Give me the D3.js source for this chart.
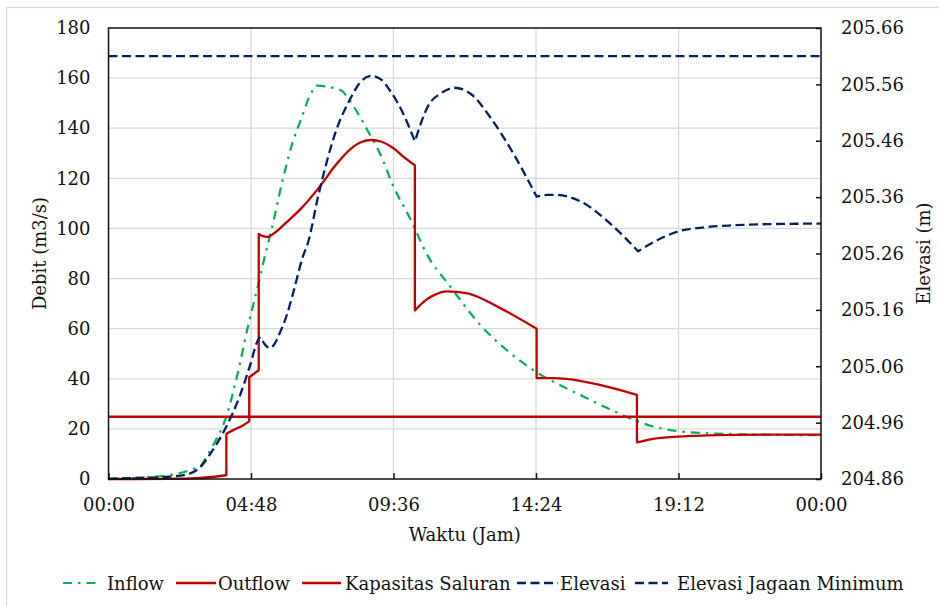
<!DOCTYPE html>
<html>
<head>
<meta charset="utf-8">
<script src="https://cdn.jsdelivr.net/npm/d3@7"></script>
<style>
  body { margin: 0; background: #fff; }
  svg text { font-family: "DejaVu Serif", serif; fill: #111; }
</style>
</head>
<body>
<div id="chart"></div>
<script>
// Debit / elevasi hydrograph, dual axis

// time in hours (0-24)
const xTicks = [0, 4.8, 9.6, 14.4, 19.2, 24];
const xTickLabels = ["00:00", "04:48", "09:36", "14:24", "19:12", "00:00"];
const debitTicks = [0, 20, 40, 60, 80, 100, 120, 140, 160, 180];
const elevTicks = [204.86, 204.96, 205.06, 205.16, 205.26, 205.36, 205.46, 205.56, 205.66];

const inflowT = [0, 1, 2, 2.6, 3.1, 3.5, 3.97, 4.35, 4.7, 5.0, 5.29, 5.49, 5.88, 6.22, 6.5, 6.8, 7.0, 7.5, 7.85, 8.13, 8.45, 8.74, 9.14, 9.59, 10.2, 10.71, 11.5, 12.56, 13.4, 14.42, 15.2, 15.98, 16.8, 17.67, 18.4, 19.24, 20.48, 22, 24];
const inflowQ = [0, 0.5, 1.5, 3, 5, 13, 25, 42, 61, 75.5, 90, 99.5, 120, 135, 144, 153.5, 157, 156.3, 155, 151, 145, 138.8, 130, 117, 103, 90, 77, 61, 51.6, 42.6, 37.5, 33, 28.3, 23.7, 20.8, 19, 18.1, 17.7, 17.5];
const inflowKinks = [3.1, 7.0];

// repeated times are the vertical steps
const outflowT = [0, 1, 2, 2.5, 3.0, 3.5, 3.97, 3.97, 4.2, 4.5, 4.74, 4.74, 5.06, 5.06, 5.2, 5.35, 5.6, 6.0, 6.45, 7.12, 7.6, 8.13, 8.5, 8.86, 9.2, 9.59, 9.92, 10.32, 10.32, 10.71, 11.0, 11.38, 12.06, 13.18, 14.42, 14.42, 15.0, 15.43, 16.55, 17.8, 17.8, 18.3, 18.8, 19.5, 20.48, 22, 24];
const outflowQ = [0, 0, 0.05, 0.15, 0.35, 0.8, 1.5, 18, 19.5, 21.2, 23, 40.6, 43.4, 97.8, 96.9, 96.6, 98.3, 102.5, 107.5, 116.8, 124.5, 131.5, 134.4, 135.3, 134.6, 132.1, 128.8, 125.2, 67.3, 71.6, 73.6, 74.9, 74.2, 68.3, 60, 40.3, 40.3, 40, 37.6, 33.6, 14.6, 15.9, 16.6, 17.1, 17.5, 17.7, 17.7];

const kapasitas = 24.8;

const elevT = [0, 1, 2, 2.63, 3.07, 3.52, 3.97, 4.42, 4.76, 5.04, 5.12, 5.25, 5.43, 5.6, 5.77, 6.0, 6.22, 6.55, 6.72, 7.06, 7.68, 8.13, 8.5, 8.86, 9.2, 9.47, 9.92, 10.32, 10.76, 11.22, 11.66, 12.23, 12.84, 13.63, 14.42, 14.8, 15.09, 15.98, 16.88, 17.84, 18.5, 19.18, 20, 21.04, 22.16, 24];
const elevE = [204.86, 204.862, 204.864, 204.868, 204.88, 204.912, 204.953, 205.007, 205.06, 205.107, 205.112, 205.1, 205.092, 205.1, 205.119, 205.15, 205.19, 205.255, 205.279, 205.361, 205.48, 205.533, 205.565, 205.575, 205.568, 205.55, 205.509, 205.459, 205.521, 205.545, 205.554, 205.542, 205.503, 205.438, 205.361, 205.364, 205.364, 205.35, 205.314, 205.264, 205.284, 205.299, 205.306, 205.31, 205.312, 205.313];
const elevKinks = [5.12, 10.32, 14.42, 17.84];

const jagaanMin = 205.61;

const W = 939, H = 606;
const plot = { left: 108.5, right: 821, top: 28, bottom: 479 };

const svg = d3.select("#chart").append("svg")
  .attr("width", W).attr("height", H);

// outer chart border
svg.append("rect")
  .attr("x", 6.5).attr("y", 7.5)
  .attr("width", W).attr("height", H)
  .attr("fill", "none").attr("stroke", "#d9d9d9").attr("stroke-width", 1.3);

const x = d3.scaleLinear().domain([0, 24]).range([plot.left, plot.right]);
const yL = d3.scaleLinear().domain([0, 180]).range([plot.bottom, plot.top]);
const yR = d3.scaleLinear().domain([204.86, 205.66]).range([plot.bottom, plot.top]);

// gridlines
svg.append("g").selectAll("line").data(debitTicks.slice(1, -1)).join("line")
  .attr("x1", plot.left).attr("x2", plot.right)
  .attr("y1", d => yL(d)).attr("y2", d => yL(d))
  .attr("stroke", "#d9d9d9").attr("stroke-width", 1.3);
svg.append("g").selectAll("line").data(xTicks.slice(1, -1)).join("line")
  .attr("x1", d => x(d)).attr("x2", d => x(d))
  .attr("y1", plot.top).attr("y2", plot.bottom)
  .attr("stroke", "#d9d9d9").attr("stroke-width", 1.3);

// smooth path, broken into pieces at steps (repeated t) and at sharp corners
function smoothPath(ts, vs, y, kinks = []) {
  const pts = ts.map((t, i) => [t, vs[i]]);
  const pieces = [];
  let cur = [pts[0]];
  for (let i = 1; i < pts.length; i++) {
    if (pts[i][0] === pts[i - 1][0]) {
      pieces.push(cur); cur = [pts[i]];
    } else {
      cur.push(pts[i]);
      if (kinks.includes(pts[i][0]) && i < pts.length - 1) { pieces.push(cur); cur = [pts[i]]; }
    }
  }
  pieces.push(cur);
  const gen = d3.line().x(d => x(d[0])).y(d => y(d[1])).curve(d3.curveMonotoneX);
  return pieces.map((p, i) => {
    const s = gen(p);
    return i === 0 ? s : "L" + s.slice(1);
  }).join("");
}

svg.append("path").attr("d", smoothPath(inflowT, inflowQ, yL, inflowKinks))
  .attr("fill", "none").attr("stroke", "#00b050").attr("stroke-width", 2.2)
  .attr("stroke-dasharray", "9,6,2.5,6");

svg.append("path").attr("d", smoothPath(outflowT, outflowQ, yL))
  .attr("fill", "none").attr("stroke", "#c00000").attr("stroke-width", 2.3)
  .attr("stroke-linejoin", "round");

svg.append("path").attr("d", smoothPath([0, 24], [kapasitas, kapasitas], yL))
  .attr("fill", "none").attr("stroke", "#c00000").attr("stroke-width", 2.5);

svg.append("path").attr("d", smoothPath(elevT, elevE, yR, elevKinks))
  .attr("fill", "none").attr("stroke", "#002060").attr("stroke-width", 2.3)
  .attr("stroke-dasharray", "9,4.5");

svg.append("path").attr("d", smoothPath([0, 24], [jagaanMin, jagaanMin], yR))
  .attr("fill", "none").attr("stroke", "#002060").attr("stroke-width", 2.3)
  .attr("stroke-dasharray", "9,4.5");

// frame
svg.append("rect")
  .attr("x", plot.left).attr("y", plot.top)
  .attr("width", plot.right - plot.left).attr("height", plot.bottom - plot.top)
  .attr("fill", "none").attr("stroke", "#111").attr("stroke-width", 1.5);

// axes
const axL = svg.append("g").attr("transform", `translate(${plot.left},0)`)
  .call(d3.axisLeft(yL).tickValues(debitTicks).tickSize(0).tickPadding(18));
const axR = svg.append("g").attr("transform", `translate(${plot.right},0)`)
  .call(d3.axisRight(yR).tickValues(elevTicks).tickSize(-5).tickPadding(20)
    .tickFormat(d => d.toFixed(2)));
const axB = svg.append("g").attr("transform", `translate(0,${plot.bottom})`)
  .call(d3.axisBottom(x).tickValues(xTicks).tickSize(-6).tickPadding(19)
    .tickFormat((d, i) => xTickLabels[i]));

[axL, axR, axB].forEach(a => {
  a.select(".domain").remove();
  a.selectAll(".tick line").attr("stroke", "#111").attr("stroke-width", 1.5);
  a.selectAll("text").attr("font-size", 18).attr("fill", "#111")
    .style("font-family", "'DejaVu Serif', serif");
});

// axis titles
svg.append("text").attr("x", (plot.left + plot.right) / 2).attr("y", 541)
  .attr("text-anchor", "middle").attr("font-size", 18).text("Waktu (Jam)");
svg.append("text")
  .attr("transform", `translate(46,${(plot.top + plot.bottom) / 2}) rotate(-90)`)
  .attr("text-anchor", "middle").attr("font-size", 18).text("Debit (m3/s)");
svg.append("text")
  .attr("transform", `translate(930,${(plot.top + plot.bottom) / 2}) rotate(-90)`)
  .attr("text-anchor", "middle").attr("font-size", 18).text("Elevasi (m)");

// legend
const legendItems = [
  { name: "Inflow", color: "#00b050", dash: "9,6,2.5,6", w: 2.2, x0: 63, x1: 98, tx: 107 },
  { name: "Outflow", color: "#c00000", dash: null, w: 2.5, x0: 176, x1: 216, tx: 218 },
  { name: "Kapasitas Saluran", color: "#c00000", dash: null, w: 2.5, x0: 302, x1: 341, tx: 345 },
  { name: "Elevasi", color: "#002060", dash: "9,4.5", w: 2.3, x0: 517, x1: 558, tx: 560 },
  { name: "Elevasi Jagaan Minimum", color: "#002060", dash: "9,4.5", w: 2.3, x0: 635, x1: 668, tx: 677 }
];
const lg = svg.append("g").selectAll("g").data(legendItems).join("g");
lg.append("line")
  .attr("x1", d => d.x0).attr("x2", d => d.x1).attr("y1", 583).attr("y2", 583)
  .attr("stroke", d => d.color).attr("stroke-width", d => d.w)
  .attr("stroke-dasharray", d => d.dash);
lg.append("text").attr("x", d => d.tx).attr("y", 590)
  .attr("font-size", 18).text(d => d.name);
</script>
</body>
</html>
